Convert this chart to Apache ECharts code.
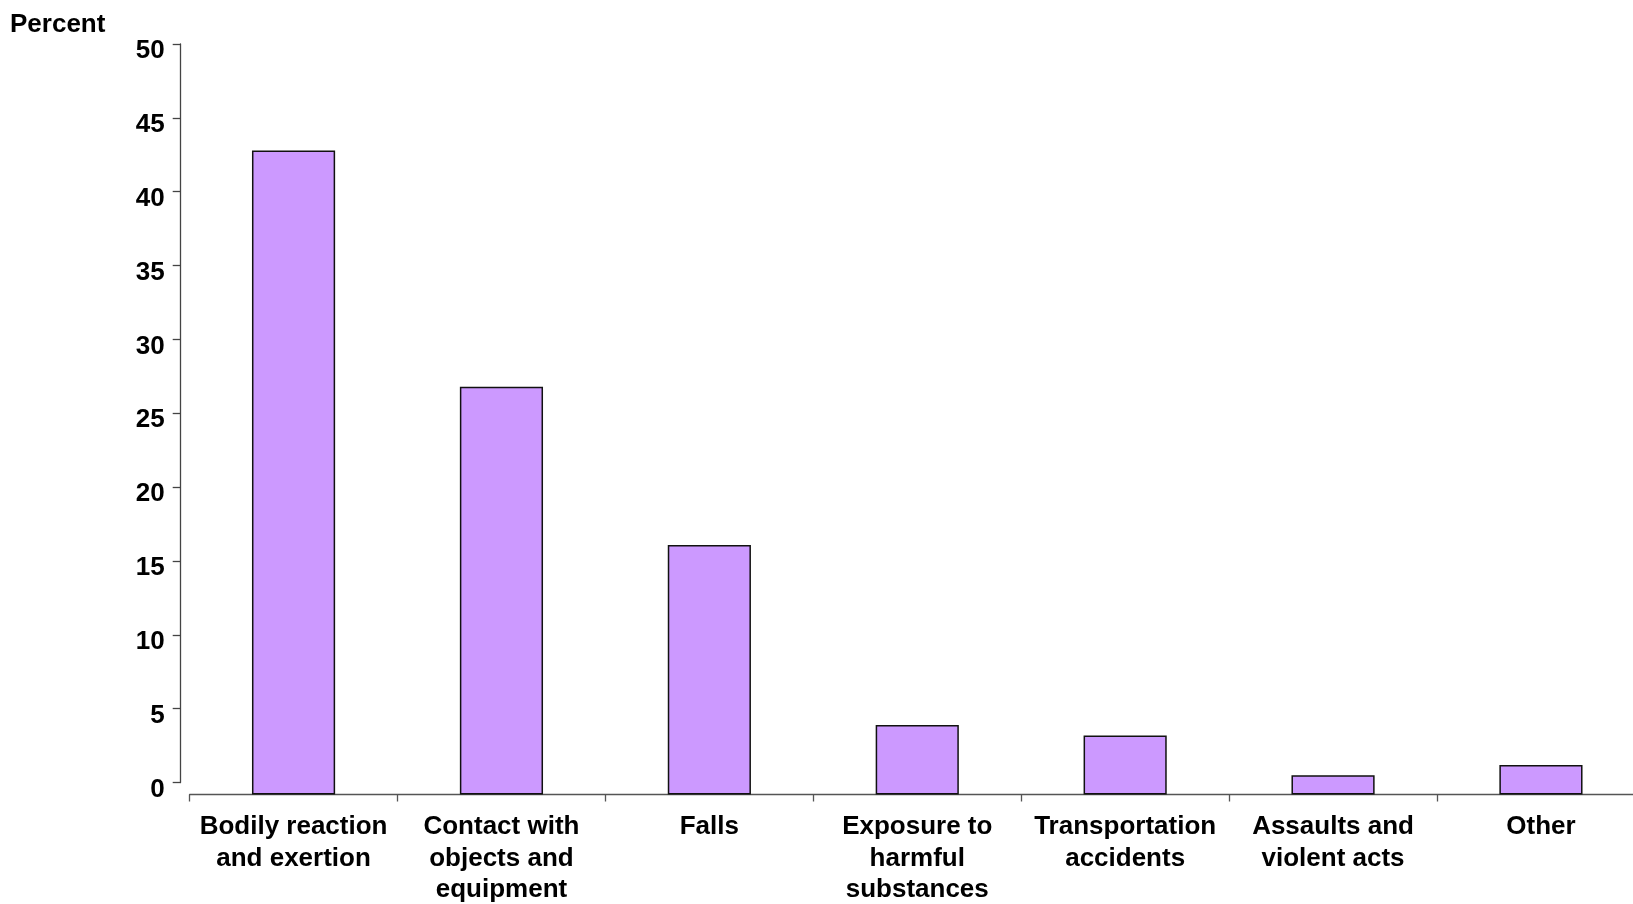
<!DOCTYPE html>
<html>
<head>
<meta charset="utf-8">
<script src="https://cdn.jsdelivr.net/npm/echarts@6/dist/echarts.min.js"></script>
<style>
  html, body { margin: 0; padding: 0; background: #fff; }
  #chart { width: 1633px; height: 904px; }
</style>
</head>
<body>
<div id="chart"></div>
<script>
// ---- Data ----
const categories = [
  'Bodily reaction\nand exertion',
  'Contact with\nobjects and\nequipment',
  'Falls',
  'Exposure to\nharmful\nsubstances',
  'Transportation\naccidents',
  'Assaults and\nviolent acts',
  'Other'
];
const percentValues = [43.6, 27.6, 16.9, 4.7, 4.0, 1.3, 2.0];
const yAxisTitle = 'Percent';
const yMin = 0;
const yMax = 50;
const yStep = 5;

// ---- Chart ----
const chart = echarts.init(document.getElementById('chart'), null, { renderer: 'canvas' });
const FONT = '"Liberation Sans", Arial, sans-serif';

chart.setOption({
  animation: false,
  backgroundColor: '#ffffff',
  title: {
    text: yAxisTitle,
    left: 10,
    top: 12,
    padding: 0,
    textStyle: { fontFamily: FONT, fontSize: 26, fontWeight: 'bold', color: '#000' }
  },
  grid: [
    // grid for the bars and category axis
    { left: 189.6, width: 1455.3, top: 56, bottom: 109.5, containLabel: false, outerBoundsMode: 'none' },
    // grid carrying the visible value axis (offset above the category axis)
    { left: 180.7, width: 10, top: 44, bottom: 121.5, containLabel: false, outerBoundsMode: 'none' }
  ],
  xAxis: [
    {
      type: 'category',
      gridIndex: 0,
      data: categories,
      axisLine: { show: true, lineStyle: { color: '#555', width: 1.3 } },
      axisTick: { show: true, inside: false, length: 7, interval: 0, lineStyle: { color: '#555', width: 1.3 } },
      axisLabel: {
        interval: 0,
        margin: 17,
        fontFamily: FONT,
        fontSize: 26,
        fontWeight: 'bold',
        lineHeight: 31.5,
        color: '#000'
      },
      splitLine: { show: false }
    },
    { type: 'value', gridIndex: 1, min: 0, max: 1, show: false }
  ],
  yAxis: [
    { type: 'value', gridIndex: 0, min: yMin, max: yMax, show: false, splitLine: { show: false } },
    {
      type: 'value',
      gridIndex: 1,
      min: yMin,
      max: yMax,
      interval: yStep,
      axisLine: { show: true, lineStyle: { color: '#444', width: 1.3 } },
      axisTick: { show: true, inside: false, length: 8, lineStyle: { color: '#444', width: 1.3 } },
      axisLabel: {
        margin: 16,
        fontFamily: FONT,
        fontSize: 26,
        fontWeight: 'bold',
        color: '#000',
        verticalAlign: 'top',
        lineHeight: 14
      },
      splitLine: { show: false }
    }
  ],
  series: [
    {
      type: 'bar',
      xAxisIndex: 0,
      yAxisIndex: 0,
      data: percentValues,
      barWidth: '40%',
      itemStyle: { color: '#CC99FF', borderColor: '#111', borderWidth: 1.5 },
      silent: true
    }
  ]
});
</script>
</body>
</html>
